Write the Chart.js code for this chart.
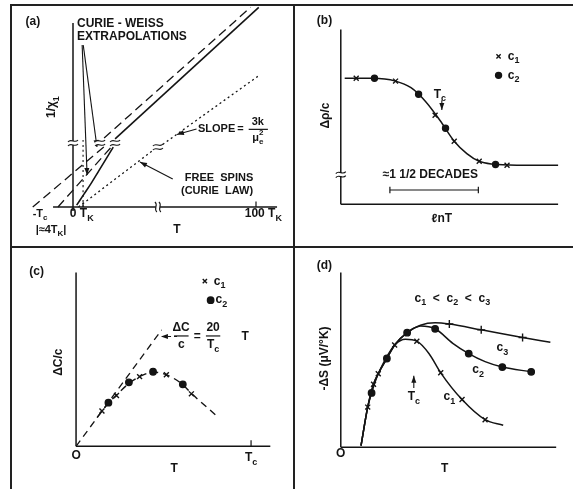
<!DOCTYPE html>
<html lang="en">
<head>
<meta charset="UTF-8">
<title>Kondo alloys - four panels</title>
<script src="https://cdn.jsdelivr.net/npm/chart.js"></script>
<style>
  body { margin: 0; background: #fff; }
  #fig { position: relative; width: 576px; height: 489px; background: #fff; overflow: hidden; }
  .panel { position: absolute; }
  .rule { position: absolute; background: #222; }
</style>
</head>
<body>
<div id="fig">
  <div class="rule" style="left:11px;top:4px;width:562px;height:2px"></div>
  <div class="rule" style="left:10px;top:4px;width:2px;height:485px"></div>
  <div class="rule" style="left:293px;top:4px;width:2px;height:485px"></div>
  <div class="rule" style="left:11px;top:246px;width:562px;height:2px"></div>
  <div class="panel" style="left:12px;top:6px;width:281px;height:240px"><canvas id="chartA"></canvas></div>
  <div class="panel" style="left:295px;top:6px;width:281px;height:240px"><canvas id="chartB"></canvas></div>
  <div class="panel" style="left:12px;top:248px;width:281px;height:241px"><canvas id="chartC"></canvas></div>
  <div class="panel" style="left:295px;top:248px;width:281px;height:241px"><canvas id="chartD"></canvas></div>
</div>

<script>
// ---- data (arbitrary units, origin of each panel = 0,0) ----

// (a) 1/chi vs T  (x: 100 = 100 T_K)
const aAxisX = [[-10.9, 0], [111.5, 0]];
const aAxisY = [[0, -2.2], [0, 100]];
const aSolidLow = [[2, 1], [6, 7], [10, 13], [14, 19.5], [18, 26], [22, 32.5]];
const aSolidHigh = [[23, 37], [101.5, 108.5]];
const aCwOuterLow = [[-22, 0], [18, 33.6]];
const aCwOuterHigh = [[17, 37.5], [97, 108.5]];
const aCwInner = [[-8.2, 0], [22, 33.8]];
const aFreeLow = [[3, 0], [44, 31]];
const aFreeHigh = [[49, 34], [101, 71]];
const aTK = [[5.5, 0], [5.5, 38]];

// (b) delta rho / c vs ln T
const bAxisX = [[0, 0], [10, 0]];
const bAxisY = [[0, 0], [0, 10]];
const bCurve = [[0.18, 7.21], [1.46, 7.21], [2.52, 7.05], [3.23, 6.67], [3.89, 5.9], [4.56, 4.81],
  [5.22, 3.61], [5.8, 2.9], [6.37, 2.46], [6.99, 2.3], [8.1, 2.24], [10, 2.24]];
const bC1 = [[0.71, 7.21], [2.52, 7.05], [4.34, 5.1], [5.22, 3.61], [6.37, 2.46], [7.65, 2.24]];
const bC2 = [[1.55, 7.21], [3.58, 6.3], [4.82, 4.35], [7.12, 2.28]];

// (c) delta C / c vs T  (x: 10 = T_c)
const cAxisX = [[0, 0], [11.1, 0]];
const cAxisY = [[0, 0], [0, 10]];
const cSlope = [[0, 0], [4.89, 6.7]];
const cCurve = [[1.2, 1.65], [1.48, 2.03], [1.87, 2.5], [2.31, 2.95], [3.02, 3.62], [3.63, 4.01],
  [4.4, 4.27], [5.16, 4.12], [6.1, 3.55], [6.59, 3.05], [7.97, 1.81]];
const cC1 = [[1.48, 2.03], [2.31, 2.93], [3.63, 4.01], [5.16, 4.12], [6.59, 3.02]];
const cC2 = [[1.85, 2.51], [3.02, 3.68], [4.4, 4.29], [6.1, 3.57]];

// (d) -delta S vs T for c1 < c2 < c3
const dAxisX = [[0, 0], [10, 0]];
const dAxisY = [[0, 0], [0, 10]];
const dC1Curve = [[0.94, 0.1], [1.25, 2.3], [1.52, 3.61], [1.74, 4.21], [2.1, 5.1], [2.5, 5.85], [3.0, 6.18],
  [3.53, 6.07], [4.1, 5.35], [4.64, 4.26], [5.63, 2.73], [6.7, 1.58], [7.54, 1.26]];
const dC2Curve = [[0.94, 0.1], [1.25, 2.3], [1.43, 3.11], [1.74, 4.21], [2.14, 5.08], [2.5, 5.85], [3.08, 6.56],
  [3.7, 6.94], [4.38, 6.78], [5.2, 5.95], [5.94, 5.36], [6.7, 4.9], [7.5, 4.59], [8.84, 4.32]];
const dC3Curve = [[0.94, 0.1], [1.25, 2.3], [1.52, 3.61], [1.74, 4.21], [2.14, 5.08], [2.5, 5.85], [3.08, 6.56],
  [3.7, 6.98], [4.38, 7.12], [5.04, 7.05], [6.52, 6.72], [8.44, 6.28], [9.73, 6.01]];
const dC1Marks = [[1.25, 2.3], [1.52, 3.61], [1.74, 4.21], [2.5, 5.85], [3.53, 6.07], [4.64, 4.26], [5.63, 2.73], [6.7, 1.58]];
const dC2Marks = [[1.43, 3.11], [2.14, 5.08], [3.08, 6.56], [4.38, 6.78], [5.94, 5.36], [7.5, 4.59], [8.84, 4.32]];
const dC3Marks = [[5.04, 7.05], [6.52, 6.72], [8.44, 6.28]];

// ---- drawing ----
const INK = '#141414';
const FONT = '"Liberation Sans", Arial, sans-serif';

const pts = arr => arr.map(p => ({ x: p[0], y: p[1] }));

function line(arr, extra) {
  return Object.assign({ data: pts(arr), showLine: true, pointRadius: 0, borderColor: INK,
    borderWidth: 1.4, fill: false, cubicInterpolationMode: 'monotone' }, extra || {});
}

function marks(arr, style, r) {
  return { data: pts(arr), showLine: false, pointStyle: style, pointRadius: r,
    pointBackgroundColor: INK, pointBorderColor: INK, pointBorderWidth: 1.4 };
}

// simple text with _sub and ^sup
function parseRich(s) {
  const out = [];
  let i = 0, buf = '';
  while (i < s.length) {
    const ch = s[i];
    if (ch === '_' || ch === '^') {
      if (buf) { out.push({ t: buf, m: 'n' }); buf = ''; }
      let t;
      if (s[i + 1] === '{') { const j = s.indexOf('}', i); t = s.slice(i + 2, j); i = j + 1; }
      else { t = s[i + 1]; i += 2; }
      out.push({ t: t, m: ch === '_' ? 'sub' : 'sup' });
    } else { buf += ch; i++; }
  }
  if (buf) out.push({ t: buf, m: 'n' });
  return out;
}

function drawRich(ctx, item, px, py) {
  const size = item.size || 12;
  const big = 'bold ' + size + 'px ' + FONT;
  const small = 'bold ' + Math.round(size * 0.75) + 'px ' + FONT;
  const runs = parseRich(item.s);
  let x = 0, prev = null;
  runs.forEach(r => {
    ctx.font = r.m === 'n' ? big : small;
    r.w = ctx.measureText(r.t).width;
    if (r.m === 'sup' && prev && prev.m === 'sub') { r.x = prev.x; x = prev.x + Math.max(prev.w, r.w); }
    else { r.x = x; x += r.w; }
    r.dy = r.m === 'sub' ? size * 0.38 : (r.m === 'sup' ? -size * 0.42 : 0);
    prev = r;
  });
  ctx.save();
  ctx.translate(px, py);
  if (item.rot) ctx.rotate(item.rot * Math.PI / 180);
  const x0 = item.align === 'left' ? 0 : -x / 2;
  ctx.textBaseline = 'middle';
  ctx.textAlign = 'left';
  runs.forEach(r => {
    ctx.font = r.m === 'n' ? big : small;
    ctx.fillText(r.t, x0 + r.x, r.dy);
  });
  ctx.restore();
}

function tilde(ctx, x, y, horiz) {
  ctx.beginPath();
  if (horiz) {
    ctx.moveTo(x - 5, y + 1);
    ctx.bezierCurveTo(x - 2, y - 3, x + 2, y + 3, x + 5, y - 1);
  } else {
    ctx.moveTo(x - 1, y - 5);
    ctx.bezierCurveTo(x + 3, y - 2, x - 3, y + 2, x + 1, y + 5);
  }
  ctx.stroke();
}

const annotPlugin = {
  id: 'annot',
  afterDatasetsDraw(chart, args, opts) {
    const ctx = chart.ctx, sx = chart.scales.x, sy = chart.scales.y;
    const P = p => [sx.getPixelForValue(p[0]), sy.getPixelForValue(p[1])];
    ctx.save();
    ctx.strokeStyle = INK;
    ctx.fillStyle = INK;
    ctx.lineCap = 'butt';

    (opts.segs || []).forEach(s => {
      const a = P(s[0]), b = P(s[1]);
      ctx.setLineDash(s[2] || []);
      ctx.lineWidth = 1.2;
      ctx.beginPath(); ctx.moveTo(a[0], a[1]); ctx.lineTo(b[0], b[1]); ctx.stroke();
    });
    ctx.setLineDash([]);

    (opts.arrows || []).forEach(s => {
      const a = P(s[0]), b = P(s[1]);
      ctx.setLineDash(s[2] || []);
      ctx.lineWidth = 1.1;
      ctx.beginPath(); ctx.moveTo(a[0], a[1]); ctx.lineTo(b[0], b[1]); ctx.stroke();
      ctx.setLineDash([]);
      const ang = Math.atan2(b[1] - a[1], b[0] - a[0]);
      ctx.beginPath();
      ctx.moveTo(b[0], b[1]);
      ctx.lineTo(b[0] - 7 * Math.cos(ang) + 2.5 * Math.sin(ang), b[1] - 7 * Math.sin(ang) - 2.5 * Math.cos(ang));
      ctx.lineTo(b[0] - 7 * Math.cos(ang) - 2.5 * Math.sin(ang), b[1] - 7 * Math.sin(ang) + 2.5 * Math.cos(ang));
      ctx.closePath(); ctx.fill();
    });

    (opts.breaks || []).forEach(b => {
      const p = P(b);
      ctx.lineWidth = 1.1;
      ctx.fillStyle = '#fff';
      if (b[2] === 'v') {
        ctx.fillRect(p[0] - 2, p[1] - 4, 4, 8);
        tilde(ctx, p[0] - 2, p[1], false);
        tilde(ctx, p[0] + 2, p[1], false);
      } else {
        ctx.fillRect(p[0] - 5, p[1] - 2, 10, 4);
        tilde(ctx, p[0], p[1] - 2, true);
        tilde(ctx, p[0], p[1] + 2, true);
      }
      ctx.fillStyle = INK;
    });

    (opts.texts || []).forEach(t => {
      const p = P([t.x, t.y]);
      drawRich(ctx, t, p[0], p[1]);
    });
    ctx.restore();
  }
};

function makePanel(id, box, origin, ppu, datasets, annot) {
  const xmin = (box[0] - origin[0]) / ppu[0];
  const xmax = (box[0] + box[2] - origin[0]) / ppu[0];
  const ymax = (origin[1] - box[1]) / ppu[1];
  const ymin = (origin[1] - box[1] - box[3]) / ppu[1];
  return new Chart(document.getElementById(id), {
    type: 'scatter',
    data: { datasets: datasets },
    options: {
      responsive: true,
      maintainAspectRatio: false,
      animation: false,
      events: [],
      layout: { padding: 0 },
      scales: {
        x: { type: 'linear', display: false, min: xmin, max: xmax },
        y: { type: 'linear', display: false, min: ymin, max: ymax }
      },
      plugins: { legend: { display: false }, tooltip: { enabled: false }, annot: annot }
    },
    plugins: [annotPlugin]
  });
}

const axis = arr => line(arr, { borderWidth: 1.5, cubicInterpolationMode: 'default' });

// panel (a)
makePanel('chartA', [12, 6, 281, 240], [73, 207], [1.83, 1.84], [
  axis(aAxisX), axis(aAxisY),
  line(aSolidLow, { borderWidth: 1.6 }), line(aSolidHigh, { borderWidth: 1.6 }),
  line(aCwOuterLow, { borderDash: [9, 5], borderWidth: 1.3 }),
  line(aCwOuterHigh, { borderDash: [9, 5], borderWidth: 1.3 }),
  line(aCwInner, { borderDash: [9, 5], borderWidth: 1.3 }),
  line(aFreeLow, { borderDash: [2, 3], borderWidth: 1.3 }),
  line(aFreeHigh, { borderDash: [2, 3], borderWidth: 1.3 }),
  line(aTK, { borderDash: [2, 3], borderWidth: 1.1 })
], {
  segs: [[[100, 0], [100, 3]], [[5.5, 0], [5.5, 2.5]], [[96, 42.2], [106.5, 42.2]]],
  arrows: [
    [[5.6, 88], [13.1, 32.6]], [[5.0, 88], [7.7, 17.4]],
    [[67.5, 42.4], [56.8, 39.4]], [[54.5, 15.2], [36.6, 24.5]]
  ],
  breaks: [[0, 34.8], [14.8, 34.8], [23, 34.8], [46.4, 32.6], [46.4, 0, 'v']],
  texts: [
    { x: -21.9, y: 100.5, s: '(a)' },
    { x: 2.2, y: 99.5, s: 'CURIE - WEISS', align: 'left' },
    { x: 2.2, y: 92.4, s: 'EXTRAPOLATIONS', align: 'left' },
    { x: -11.5, y: 54.3, s: '1/χ_1', rot: -90 },
    { x: 68.3, y: 42.4, s: 'SLOPE', align: 'left', size: 11 },
    { x: 91.5, y: 42.4, s: '=', size: 11 },
    { x: 101, y: 46.4, s: '3k', size: 11 },
    { x: 101, y: 37.6, s: 'μ_e^2', size: 11 },
    { x: 79.8, y: 15.8, s: 'FREE  SPINS', size: 11 },
    { x: 78.7, y: 8.7, s: '(CURIE  LAW)', size: 11 },
    { x: -18, y: -3.8, s: '-T_c', size: 11 },
    { x: 0, y: -3.8, s: '0' },
    { x: 7.5, y: -3.8, s: 'T_K' },
    { x: 104, y: -3.8, s: '100 T_K' },
    { x: -12, y: -12.3, s: '|≈4T_K|', size: 11 },
    { x: 56.8, y: -12.5, s: 'T' }
  ]
});

// panel (b)
makePanel('chartB', [295, 6, 281, 240], [337, 208], [22.6, 18.3], [
  marks(bC1, 'crossRot', 3.5), marks(bC2, 'circle', 3),
  marks([[7.26, 8.47]], 'crossRot', 3), marks([[7.26, 7.38]], 'circle', 3),
  axis(bAxisX), axis(bAxisY),
  line(bCurve, { borderWidth: 1.5 })
], {
  segs: [[[2.26, 0.82], [6.33, 0.82]], [[2.26, 0.64], [2.26, 1.0]], [[6.33, 0.64], [6.33, 1.0]]],
  arrows: [[[4.65, 5.96], [4.65, 5.4]]],
  breaks: [[0, 1.7]],
  texts: [
    { x: -0.75, y: 10.5, s: '(b)' },
    { x: 7.95, y: 8.47, s: 'c_1' },
    { x: 7.95, y: 7.38, s: 'c_2' },
    { x: 4.56, y: 6.3, s: 'T_c' },
    { x: 4.12, y: 1.69, s: '≈1 1/2 DECADES' },
    { x: 4.65, y: -0.82, s: 'ℓnT' },
    { x: -0.71, y: 5.08, s: 'Δρ/c', rot: -90 }
  ]
});

// panel (c)
makePanel('chartC', [12, 248, 281, 241], [73, 450], [18.2, 18.2], [
  marks(cC1, 'crossRot', 3.5), marks(cC2, 'circle', 3.2),
  marks([[7.36, 9.5]], 'crossRot', 3), marks([[7.69, 8.41]], 'circle', 3.2),
  axis(cAxisX), axis(cAxisY),
  line(cSlope, { borderDash: [7, 5], borderWidth: 1.3 }),
  line(cCurve, { borderDash: [7, 5], borderWidth: 1.4 })
], {
  segs: [[[10, 0], [10, 0.35]], [[5.6, 6.35], [6.43, 6.35]], [[7.42, 6.35], [8.24, 6.35]]],
  arrows: [[[5.77, 6.32], [4.85, 6.32], [3, 3]]],
  texts: [
    { x: -2.25, y: 10.05, s: '(c)' },
    { x: 0, y: -0.55, s: 'O' },
    { x: 10, y: -0.66, s: 'T_c' },
    { x: 5.6, y: -1.26, s: 'T' },
    { x: -0.99, y: 4.84, s: 'ΔC/c', rot: -90 },
    { x: 8.2, y: 9.5, s: 'c_1' },
    { x: 8.3, y: 8.41, s: 'c_2' },
    { x: 6.0, y: 6.8, s: 'ΔC' },
    { x: 6.02, y: 5.85, s: 'c' },
    { x: 6.92, y: 6.32, s: '=' },
    { x: 7.83, y: 6.8, s: '20' },
    { x: 7.83, y: 5.85, s: 'T_c' },
    { x: 9.67, y: 6.32, s: 'T' }
  ]
});

// panel (d)
makePanel('chartD', [295, 248, 281, 241], [337, 451], [22.4, 18.3], [
  marks(dC1Marks, 'crossRot', 3.5), marks(dC2Marks, 'circle', 3.2), marks(dC3Marks, 'cross', 4),
  axis(dAxisX), axis(dAxisY),
  line(dC1Curve, { borderWidth: 1.5 }),
  line(dC2Curve, { borderWidth: 1.5 }),
  line(dC3Curve, { borderWidth: 1.5 })
], {
  arrows: [[[3.39, 3.39], [3.39, 4.1]]],
  texts: [
    { x: -0.76, y: 10.4, s: '(d)' },
    { x: 0, y: -0.38, s: 'O' },
    { x: 4.82, y: -1.2, s: 'T' },
    { x: -0.76, y: 5.08, s: '-ΔS (μV/°K)', rot: -90 },
    { x: 5.18, y: 8.52, s: 'c_1  <  c_2  <  c_3' },
    { x: 3.39, y: 2.9, s: 'T_c' },
    { x: 7.5, y: 5.68, s: 'c_3' },
    { x: 6.38, y: 4.43, s: 'c_2' },
    { x: 5.04, y: 2.9, s: 'c_1' }
  ]
});
</script>
</body>
</html>
